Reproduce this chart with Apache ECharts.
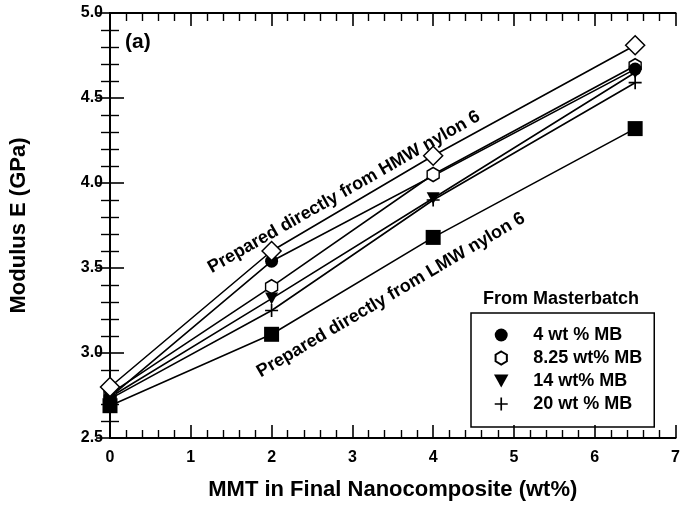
<!DOCTYPE html>
<html>
<head>
<meta charset="utf-8">
<style>
  html, body { margin: 0; padding: 0; background: #fff; }
  #chart { width: 683px; height: 514px; }
</style>
<script src="https://cdn.jsdelivr.net/npm/echarts@6/dist/echarts.min.js"></script>
</head>
<body>
<div id="chart"></div>
<script>
// MMT loading (wt%) and tensile modulus (GPa) for each material route
const hmwX = [0, 2, 4, 6.5];
const hmwE = [2.80, 3.60, 4.16, 4.81];

const lmwX = [0, 2, 4, 6.5];
const lmwE = [2.69, 3.11, 3.68, 4.32];

const mb4X = [0, 2, 6.5];
const mb4E = [2.74, 3.54, 4.67];

const mb825X = [0, 2, 4, 6.5];
const mb825E = [2.76, 3.39, 4.05, 4.69];

const mb14X = [0, 2, 4, 6.5];
const mb14E = [2.74, 3.32, 3.91, 4.65];

const mb20X = [0, 2, 4, 6.5];
const mb20E = [2.73, 3.25, 3.90, 4.59];

const xTicks = [0, 1, 2, 3, 4, 5, 6, 7];
const yTicks = [2.5, 3.0, 3.5, 4.0, 4.5, 5.0];

const legendNames = ['4 wt % MB', '8.25 wt% MB', '14 wt% MB', '20 wt % MB'];
const hmwLabel = 'Prepared directly from HMW nylon 6';
const lmwLabel = 'Prepared directly from LMW nylon 6';
const legendTitle = 'From Masterbatch';
const panelTag = '(a)';

const FONT = 'Liberation Sans, Arial, Helvetica, sans-serif';

const HEX = 'path://M0,-1 L0.866,-0.5 L0.866,0.5 L0,1 L-0.866,0.5 L-0.866,-0.5 Z';
const TRI_DOWN = 'path://M-1,-0.9 L1,-0.9 L0,0.9 Z';
const PLUS = 'path://M-1,-0.13 L-0.13,-0.13 L-0.13,-1 L0.13,-1 L0.13,-0.13 L1,-0.13 L1,0.13 L0.13,0.13 L0.13,1 L-0.13,1 L-0.13,0.13 L-1,0.13 Z';

function pairs(xs, ys) { return xs.map((x, i) => [x, ys[i]]); }

const lineStyle = { color: '#000', width: 1.6 };

function makeSeries(name, xs, ys, symbol, size, itemStyle) {
  return {
    name: name,
    type: 'line',
    data: pairs(xs, ys),
    symbol: symbol,
    symbolSize: size,
    showAllSymbol: true,
    lineStyle: lineStyle,
    itemStyle: itemStyle,
    emphasis: { disabled: true },
    z: 3
  };
}

const chart = echarts.init(document.getElementById('chart'), null, { renderer: 'canvas' });

const axisCommonX = {
  type: 'value', min: 0, max: 7, interval: 1,
  axisLine: { show: true, lineStyle: { color: '#000', width: 2 } },
  axisTick: { show: true, inside: true, length: 13, lineStyle: { color: '#000', width: 1.6 } },
  minorTick: { show: true, splitNumber: 5, length: 8, lineStyle: { color: '#000', width: 1.4 } },
  splitLine: { show: false }
};
const axisCommonY = {
  type: 'value', min: 2.5, max: 5.0, interval: 0.5,
  axisLine: { show: true, lineStyle: { color: '#000', width: 2 } },
  axisTick: { show: true, inside: true, length: 14, lineStyle: { color: '#000', width: 1.6 } },
  minorTick: { show: true, splitNumber: 5, length: 9, lineStyle: { color: '#000', width: 1.4 } },
  splitLine: { show: false }
};

chart.setOption({
  animation: false,
  backgroundColor: '#fff',
  textStyle: { fontFamily: FONT },
  grid: { left: 110, top: 13, width: 571, height: 425, containLabel: false },
  xAxis: [
    Object.assign({}, axisCommonX, {
      position: 'bottom',
      axisLabel: {
        show: true, margin: 12, color: '#000', fontSize: 16, fontWeight: 'bold', fontFamily: FONT,
        formatter: v => xTicks.includes(v) ? String(v) : ''
      },
      name: 'MMT in Final Nanocomposite (wt%)',
      nameLocation: 'middle',
      nameGap: 41,
      nameTextStyle: { color: '#000', fontSize: 22, fontWeight: 'bold', fontFamily: FONT }
    }),
    Object.assign({}, axisCommonX, { position: 'top', axisLabel: { show: false } })
  ],
  yAxis: [
    Object.assign({}, axisCommonY, {
      position: 'left',
      axisLabel: {
        show: true, margin: 7, color: '#000', fontSize: 16, fontWeight: 'bold', fontFamily: FONT,
        formatter: v => yTicks.some(t => Math.abs(t - v) < 1e-9) ? v.toFixed(1) : ''
      },
      name: 'Modulus E (GPa)',
      nameLocation: 'middle',
      nameGap: 80,
      nameTextStyle: { color: '#000', fontSize: 22, fontWeight: 'bold', fontFamily: FONT }
    }),
    Object.assign({}, axisCommonY, { position: 'right', axisLabel: { show: false } })
  ],
  legend: {
    show: true,
    orient: 'vertical',
    left: 471,
    top: 313,
    padding: [13, 12, 14, 23],
    itemWidth: 54,
    itemHeight: 13,
    itemGap: 5,
    borderColor: '#000',
    borderWidth: 1.5,
    selectedMode: false,
    symbolKeepAspect: true,
    textStyle: { color: '#000', fontSize: 18, fontWeight: 'bold', fontFamily: FONT, lineHeight: 14 },
    data: [
      { name: legendNames[0], icon: 'circle' },
      { name: legendNames[1], icon: HEX },
      { name: legendNames[2], icon: TRI_DOWN },
      { name: legendNames[3], icon: PLUS }
    ]
  },
  series: [
    makeSeries(legendNames[1], mb825X, mb825E, HEX, [12, 14],
      { color: '#fff', borderColor: '#000', borderWidth: 1.5 }),
    makeSeries(legendNames[2], mb14X, mb14E, TRI_DOWN, [13, 12],
      { color: '#000', borderColor: '#000', borderWidth: 0 }),
    makeSeries(legendNames[3], mb20X, mb20E, PLUS, [13, 13],
      { color: '#000', borderColor: '#000', borderWidth: 0 }),
    makeSeries(legendNames[0], mb4X, mb4E, 'circle', 13,
      { color: '#000', borderColor: '#000', borderWidth: 0 }),
    makeSeries('LMW nylon 6', lmwX, lmwE, 'rect', 15,
      { color: '#000', borderColor: '#000', borderWidth: 0 }),
    makeSeries('HMW nylon 6', hmwX, hmwE, 'diamond', [19, 19],
      { color: '#fff', borderColor: '#000', borderWidth: 1.5 })
  ],
  graphic: [
    {
      type: 'text', x: 125, y: 42, z: 10,
      style: { text: panelTag, fill: '#000', font: 'bold 21px ' + FONT, align: 'left', verticalAlign: 'middle' }
    },
    {
      type: 'text', x: 344, y: 192, rotation: 29.7 * Math.PI / 180, z: 10,
      style: { text: hmwLabel, fill: '#000', font: 'bold 18px ' + FONT, align: 'center', verticalAlign: 'middle' }
    },
    {
      type: 'text', x: 391, y: 295, rotation: 30.5 * Math.PI / 180, z: 10,
      style: { text: lmwLabel, fill: '#000', font: 'bold 18px ' + FONT, align: 'center', verticalAlign: 'middle' }
    },
    {
      type: 'text', x: 561, y: 299, z: 10,
      style: { text: legendTitle, fill: '#000', font: 'bold 18px ' + FONT, align: 'center', verticalAlign: 'middle' }
    }
  ]
});
</script>
</body>
</html>
